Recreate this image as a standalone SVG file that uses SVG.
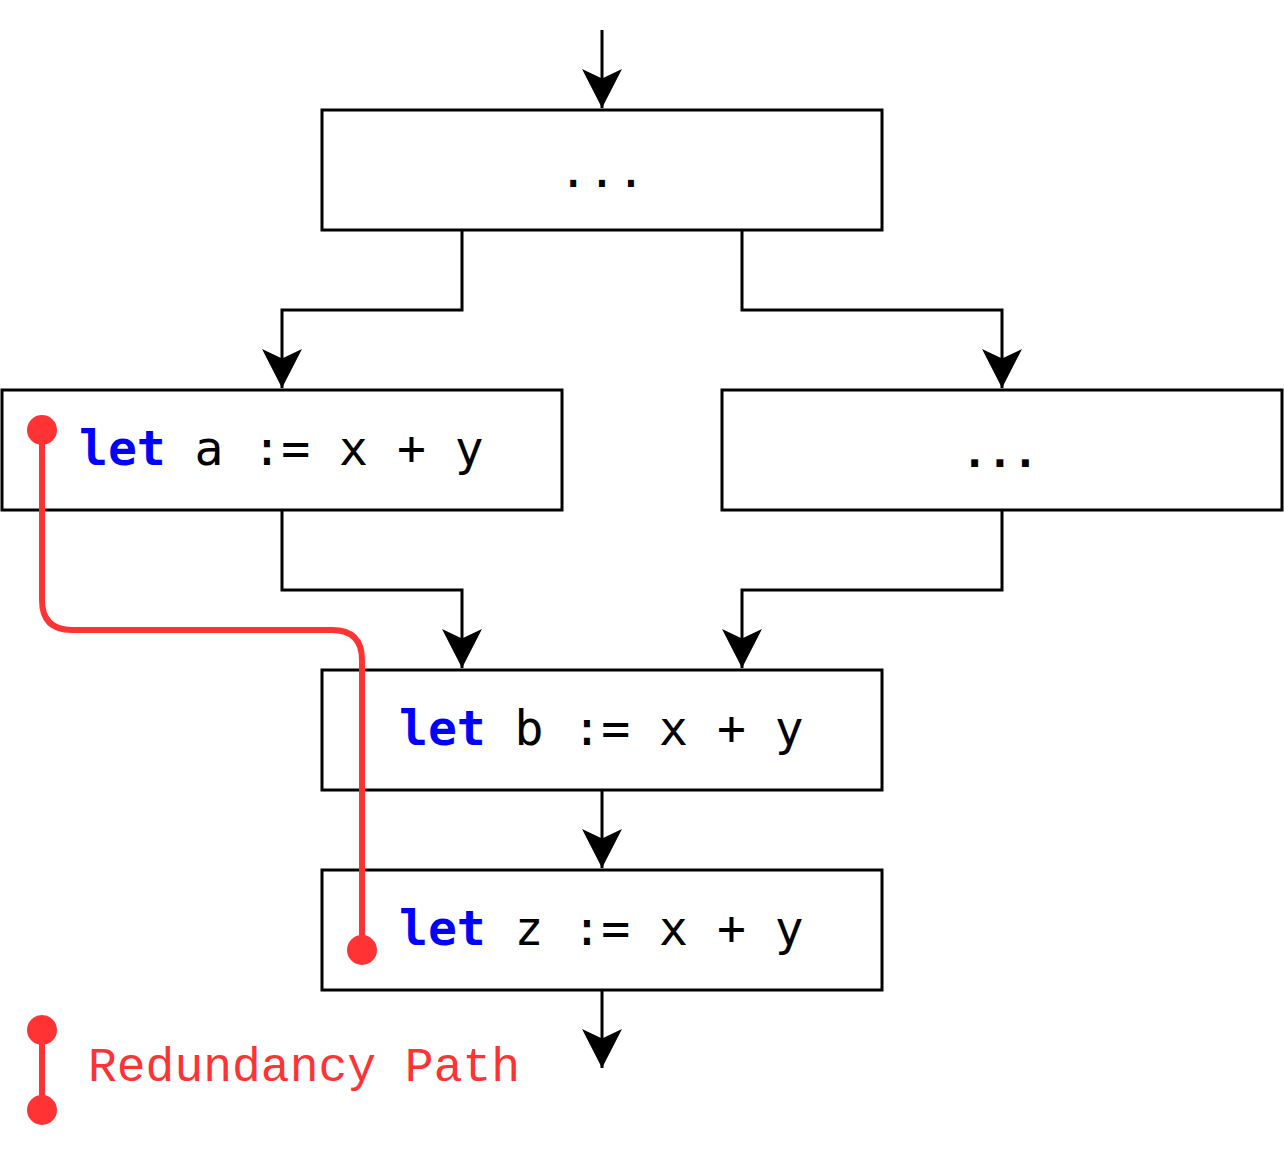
<svg xmlns="http://www.w3.org/2000/svg" width="1284" height="1152" viewBox="0 0 1284 1152">
<style>
.box{fill:#fff;stroke:#000;stroke-width:3}
.edge{fill:none;stroke:#000;stroke-width:3}
.code{font-family:"DejaVu Sans Mono","Liberation Mono",monospace;font-size:48px;fill:#000;white-space:pre}
.kw{fill:#0000FF;font-weight:bold}
.red{fill:none;stroke:#FF3333;stroke-width:6}
.dot{fill:#FF3333}
</style>
<defs>
<marker id="arr" markerUnits="userSpaceOnUse" markerWidth="40" markerHeight="40" viewBox="0 0 38 38" refX="37" refY="19" orient="auto">
<path d="M37,19 L0,0 L9,19 L0,38 Z" fill="#000"/>
</marker>
</defs>
<g id="connectors">
<path class="edge" d="M602,30 L602,108" marker-end="url(#arr)"/>
<path class="edge" d="M462,230 L462,310 L282,310 L282,388" marker-end="url(#arr)"/>
<path class="edge" d="M742,230 L742,310 L1002,310 L1002,388" marker-end="url(#arr)"/>
<path class="edge" d="M282,510 L282,590 L462,590 L462,668" marker-end="url(#arr)"/>
<path class="edge" d="M1002,510 L1002,590 L742,590 L742,668" marker-end="url(#arr)"/>
<path class="edge" d="M602,790 L602,868" marker-end="url(#arr)"/>
<path class="edge" d="M602,990 L602,1068" marker-end="url(#arr)"/>
</g>
<g id="node-top">
<rect class="box" x="322" y="110" width="560" height="120"/>
<text class="code" x="602" y="187" text-anchor="middle">...</text>
</g>
<g id="node-a">
<rect class="box" x="2" y="390" width="560" height="120"/>
<text class="code" x="79" y="465"><tspan class="kw">let</tspan> a := x + y</text>
</g>
<g id="node-right">
<rect class="box" x="722" y="390" width="560" height="120"/>
<text class="code" x="1000" y="467" text-anchor="middle" style="font-weight:bold;font-size:42px">...</text>
</g>
<g id="node-b">
<rect class="box" x="322" y="670" width="560" height="120"/>
<text class="code" x="399" y="745"><tspan class="kw">let</tspan> b := x + y</text>
</g>
<g id="node-z">
<rect class="box" x="322" y="870" width="560" height="120"/>
<text class="code" x="399" y="945"><tspan class="kw">let</tspan> z := x + y</text>
</g>
<g id="redundancy-path">
<path class="red" d="M42,430 L42,600 Q42,630 72,630 L332,630 Q362,630 362,660 L362,950"/>
<circle class="dot" cx="42" cy="430" r="15"/>
<circle class="dot" cx="362" cy="950" r="15"/>
</g>
<g id="legend">
<path class="red" d="M42,1030 L42,1110"/>
<circle class="dot" cx="42" cy="1030" r="15"/>
<circle class="dot" cx="42" cy="1110" r="15"/>
<text x="88" y="1081" style="font-family:'Liberation Mono','Courier New',monospace;font-size:48px;fill:#FF3333;white-space:pre">Redundancy Path</text>
</g>
</svg>
